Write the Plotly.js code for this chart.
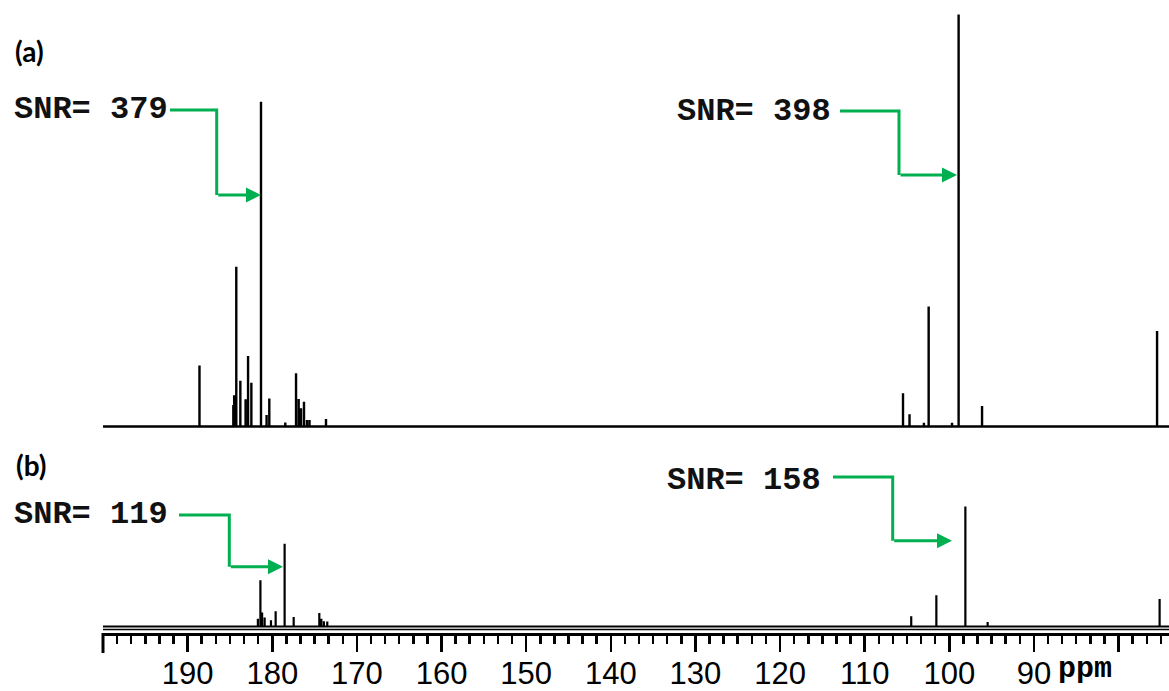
<!DOCTYPE html>
<html><head><meta charset="utf-8">
<script src="https://cdn.plot.ly/plotly-3.0.1.min.js"></script>
<style>html,body{margin:0;padding:0;background:#fff}</style>
</head><body><div id="chart" style="width:1169px;height:691px"></div>
<script>
// ---- data (ppm positions and relative intensities) ----
const ppmA = [188.6,184.6,184.5,184.25,183.77,183.15,182.86,182.47,181.33,180.67,180.35,178.46,177.19,176.88,176.6,176.25,175.9,175.6,173.65,105.47,104.7,103.0,102.44,99.68,98.9,96.13,75.45];
const intA = [14.8,5.2,7.6,38.8,11.1,6.6,17.1,10.6,78.8,2.8,6.8,1.0,12.9,6.7,4.4,6.0,1.6,1.6,1.8,8.1,3.0,0.9,29.1,0.9,100,5.0,23.2];
const ppmB = [181.7,181.4,181.2,180.9,180.15,179.6,178.54,177.47,174.44,174.2,173.9,173.5,104.5,101.53,98.1,95.47,75.15];
const intB = [1.9,11.2,3.4,2.2,1.5,3.7,20.1,2.3,3.3,1.9,1.3,1.2,2.5,7.6,29.1,1.1,6.7];
const tickVals = [190,180,170,160,150,140,130,120,110,100,90,80];
const tickText = ['190','180','170','160','150','140','130','120','110','100','90',''];
const axisUnit = 'ppm';
const panelLabels = ['(a)','(b)'];
const snrLabels = ['SNR= 379','SNR= 398','SNR= 119','SNR= 158'];

// ---- geometry ----
const W = 1169, H = 691, L = 103, B = 58;
const plotW = W - L, plotH = H - B;           // plot area: x 103..1169, y 0..633
const xHi = 200, xLo = xHi - plotW / 8.463;
const k = 4.12;                                // px per intensity unit
const axisPx = 633, baseB = 626.5, splitPx = 443, baseA = 426.5;
const px = x => (x - L) / plotW;
const py = y => (plotH - y) / plotH;

function sticks(p, h) {
  const idx = p.map((_, i) => i).sort((a, b) => p[b] - p[a]);
  const x = [xHi], y = [0];
  idx.forEach(i => { x.push(p[i], p[i], p[i]); y.push(0, h[i], 0); });
  x.push(xLo); y.push(0);
  return {x, y};
}
const sA = sticks(ppmA, intA), sB = sticks(ppmB, intB);

const traces = [
  {x: sA.x, y: sA.y, xaxis: 'x', yaxis: 'y2', mode: 'lines', line: {color: '#000', width: 2.4}, hoverinfo: 'skip'},
  {x: sB.x, y: sB.y, xaxis: 'x', yaxis: 'y', mode: 'lines', line: {color: '#000', width: 2.2}, hoverinfo: 'skip'}
];

const green = '#00b050';
const arrows = [
  {tx: 12, ty: 110, p: [[170,110],[216.7,110],[216.7,195]], tip: [261,195]},
  {tx: 675, ty: 111, p: [[840,111],[899,111],[899,175]], tip: [957,175]},
  {tx: 12, ty: 514, p: [[179,515],[229.3,515],[229.3,566.7]], tip: [283,566.7]},
  {tx: 665, ty: 480, p: [[833,477],[892.7,477],[892.7,540.7]], tip: [952,540.7]}
];

const shapes = [], annotations = [];
arrows.forEach((a, i) => {
  const d = 'M ' + a.p.map(q => px(q[0]) + ',' + py(q[1])).join(' L ');
  shapes.push({type: 'path', xref: 'paper', yref: 'paper', path: d, line: {color: green, width: 3}});
  annotations.push({xref: 'paper', yref: 'paper', x: px(a.tip[0]), y: py(a.tip[1]), text: '',
    showarrow: true, ax: a.p[2][0] - a.tip[0], ay: 0, arrowhead: 2, arrowsize: 1, arrowwidth: 3,
    arrowcolor: green, standoff: 0});
  annotations.push({xref: 'paper', yref: 'paper', x: px(a.tx), y: py(a.ty), xanchor: 'left', yanchor: 'middle',
    text: '<b>' + snrLabels[i] + '</b>', showarrow: false,
    font: {family: 'Liberation Mono, Courier New, monospace', size: 32, color: '#111'}});
});
annotations.push({xref: 'paper', yref: 'paper', x: px(13), y: py(51), xanchor: 'left', yanchor: 'middle',
  text: '<b>' + panelLabels[0] + '</b>', showarrow: false, font: {family: 'Lato, Open Sans, sans-serif', size: 28, color: '#000'}});
annotations.push({xref: 'paper', yref: 'paper', x: px(14), y: py(465), xanchor: 'left', yanchor: 'middle',
  text: '<b>' + panelLabels[1] + '</b>', showarrow: false, font: {family: 'Lato, Open Sans, sans-serif', size: 28, color: '#000'}});
annotations.push({xref: 'paper', yref: 'paper', x: px(1085), y: py(669), xanchor: 'center', yanchor: 'middle',
  text: '<b>' + axisUnit + '</b>', showarrow: false, font: {family: 'Liberation Mono, Courier New, monospace', size: 30, color: '#000'}});

// left end tick and second axis rule
shapes.push({type: 'line', xref: 'paper', yref: 'paper', x0: 0, x1: 0, y0: py(axisPx), y1: py(653), line: {color: '#000', width: 3}});
shapes.push({type: 'line', xref: 'paper', yref: 'paper', x0: 0, x1: 1, y0: py(629.5), y1: py(629.5), line: {color: '#000', width: 1.5}});

const domSplit = (plotH - splitPx) / plotH;
const yBmin = -(axisPx - baseB) / k;
const yAmin = -(splitPx - baseA) / k;

const layout = {
  width: W, height: H, margin: {l: L, r: 0, t: 0, b: B},
  paper_bgcolor: '#fff', plot_bgcolor: '#fff', showlegend: false,
  xaxis: {range: [xHi, xLo], anchor: 'y', showline: true, linecolor: '#000', linewidth: 2.5,
    tickmode: 'array', tickvals: tickVals, ticktext: tickText, ticks: 'outside', ticklen: 16, tickwidth: 2.5,
    tickcolor: '#000', showgrid: false, zeroline: false, ticklabelstandoff: -5,
    tickfont: {family: 'Liberation Sans, Arial, sans-serif', size: 31, color: '#000'},
    minor: {tickmode: 'linear', tick0: 200, dtick: 10/6, ticks: 'outside', ticklen: 8, tickwidth: 2.5, tickcolor: '#000', showgrid: false}},
  yaxis: {domain: [0, domSplit], range: [yBmin, yBmin + (plotH - splitPx) / k], visible: false, fixedrange: true},
  yaxis2: {domain: [domSplit, 1], range: [yAmin, yAmin + splitPx / k], visible: false, fixedrange: true},
  shapes, annotations
};
Plotly.newPlot('chart', traces, layout, {displayModeBar: false, staticPlot: true});
</script></body></html>
